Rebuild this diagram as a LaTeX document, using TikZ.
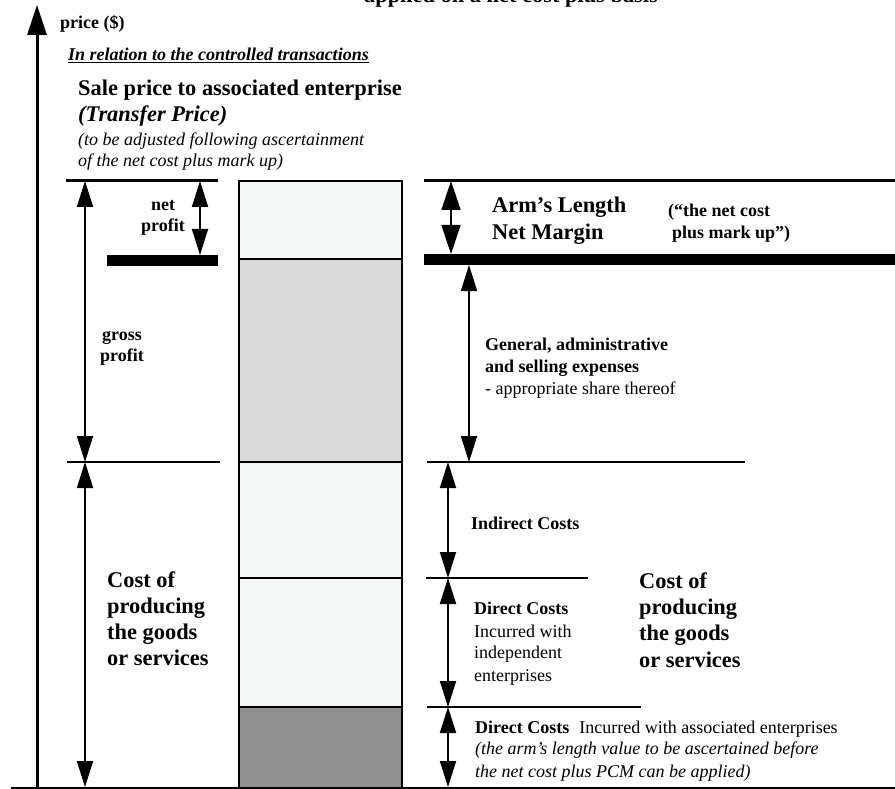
\documentclass[tikz,border=0pt]{standalone}
\usepackage{fontspec}
\setmainfont{Liberation Serif}
\usetikzlibrary{arrows.meta}
\definecolor{boxlight}{HTML}{F5F7F6}
\definecolor{boxmid}{HTML}{D9D9D9}
\definecolor{boxdark}{HTML}{909090}
\begin{document}
\begin{tikzpicture}[x=1pt,y=-1pt,
  dimarrow/.style={line width=1.8pt,{Triangle[length=26pt,width=16pt]}-{Triangle[length=26pt,width=16pt]}},
  armarrow/.style={line width=1.8pt,{Triangle[length=29pt,width=19pt]}-{Triangle[length=29pt,width=19pt]}},
  txt/.style={anchor=base west,inner sep=0pt,font=\fontsize{18}{22}\selectfont},
  txtb/.style={txt,font=\fontsize{18}{22}\selectfont\bfseries},
  txtc/.style={txtb,anchor=base},
  txti/.style={txt,font=\fontsize{18}{22}\selectfont\itshape},
  bigtxt/.style={anchor=base west,inner sep=0pt,font=\fontsize{22.4}{26}\selectfont\bfseries},
  levelline/.style={line width=2pt},
  topline/.style={line width=3pt},
  netline/.style={line width=11pt},
  segbox/.style={draw,line width=2pt}]
\useasboundingbox (0,0) rectangle (895,789);
\fill[white] (0,0) rectangle (895,789);

% title cut at top
\node[bigtxt,anchor=base] (title) at (511,3) {applied on a net cost plus basis};

% axis
\coordinate (axisB) at (37,789);
\coordinate (axisT) at (37,5);
\draw[line width=3pt,-{Triangle[length=30pt,width=19pt]}] (axisB) -- (axisT);
\node[txtb] (price) at (60,29) {price (\$)};

\node[txt,font=\fontsize{18}{22}\selectfont\bfseries\itshape] (rel) at (68,61) {\underline{In relation to the controlled transactions}};
\node[bigtxt] (sale) at (78,96) {Sale price to associated enterprise};
\node[bigtxt,font=\fontsize{22.4}{26}\selectfont\bfseries\itshape] (tp) at (78,122) {(Transfer Price)};
\node[txti] (adj1) at (78,146) {(to be adjusted following ascertainment};
\node[txti] (adj2) at (78,167) {of the net cost plus mark up)};

% column
\filldraw[segbox,fill=boxlight] (239,181) rectangle (402,259);
\filldraw[segbox,fill=boxmid] (239,259) rectangle (402,462);
\filldraw[segbox,fill=boxlight] (239,462) rectangle (402,578);
\filldraw[segbox,fill=boxlight] (239,578) rectangle (402,707);
\filldraw[segbox,fill=boxdark] (239,707) rectangle (402,792);

% level lines
\coordinate (lt1) at (66,181);  \coordinate (lt2) at (218,181);
\coordinate (rt1) at (424,181); \coordinate (rt2) at (895,181);
\coordinate (ln1) at (107,260); \coordinate (ln2) at (218,260);
\coordinate (rn1) at (424,259); \coordinate (rn2) at (895,259);
\coordinate (lg1) at (67,462);  \coordinate (lg2) at (220,462);
\coordinate (rg1) at (427,462); \coordinate (rg2) at (745,462);
\coordinate (ri1) at (426,578); \coordinate (ri2) at (588,578);
\coordinate (rd1) at (427,707); \coordinate (rd2) at (641,707);
\coordinate (base1) at (11,788); \coordinate (base2) at (895,788);
\draw[topline] (lt1) -- (lt2);
\draw[topline] (rt1) -- (rt2);
\draw[netline] (ln1) -- (ln2);
\draw[netline] (rn1) -- (rn2);
\draw[levelline] (lg1) -- (lg2);
\draw[levelline] (rg1) -- (rg2);
\draw[levelline] (ri1) -- (ri2);
\draw[levelline] (rd1) -- (rd2);
\draw[line width=1.5pt] (base1) -- (base2);

% dimension arrows
\coordinate (gpT) at (85,181);  \coordinate (gpB) at (85,462);
\coordinate (cpB) at (85,787);
\coordinate (npT) at (200,181); \coordinate (npB) at (200,255);
\coordinate (amT) at (451,181); \coordinate (amB) at (451,254);
\coordinate (gsT) at (469,265); \coordinate (gsB) at (469,462);
\coordinate (icT) at (448,462); \coordinate (icB) at (448,578);
\coordinate (dcB) at (448,707); \coordinate (daB) at (448,787);
\draw[dimarrow] (gpT) -- (gpB);
\draw[dimarrow] (gpB) -- (cpB);
\draw[dimarrow] (npT) -- (npB);
\draw[armarrow] (amT) -- (amB);
\draw[dimarrow] (gsT) -- (gsB);
\draw[dimarrow] (icT) -- (icB);
\draw[dimarrow] (icB) -- (dcB);
\draw[dimarrow] (dcB) -- (daB);

% left labels
\node[txtc] (net1) at (163,211) {net};
\node[txtc] (net2) at (163,232) {profit};
\node[txtc] (gross1) at (122,340) {gross};
\node[txtc] (gross2) at (122,361) {profit};
\node[bigtxt] (cl1) at (107,587) {Cost of};
\node[bigtxt] (cl2) at (107,613) {producing};
\node[bigtxt] (cl3) at (107,639) {the goods};
\node[bigtxt] (cl4) at (107,665) {or services};

% right labels
\node[bigtxt] (arm1) at (492,213) {Arm’s Length};
\node[bigtxt] (arm2) at (492,240) {Net Margin};
\node[txtb] (nc1) at (668,216) {(“the net cost};
\node[txtb] (nc2) at (672,238) {plus mark up”)};
\node[txtb] (ga1) at (485,350) {General, administrative};
\node[txtb] (ga2) at (485,372) {and selling expenses};
\node[txt] (ga3) at (485,394) {- appropriate share thereof};
\node[txtb] (ind) at (471,529) {Indirect Costs};
\node[txtb] (di1) at (474,614) {Direct Costs};
\node[txt] (di2) at (474,637) {Incurred with};
\node[txt] (di3) at (474,658) {independent};
\node[txt] (di4) at (474,681) {enterprises};
\node[txt] (da1) at (475,733) {\bfseries Direct Costs\hspace{10pt}\mdseries Incurred with associated enterprises};
\node[txti] (da2) at (475,754) {(the arm’s length value to be ascertained before};
\node[txti] (da3) at (475,777) {the net cost plus PCM can be applied)};
\node[bigtxt] (cr1) at (639,588) {Cost of};
\node[bigtxt] (cr2) at (639,614) {producing};
\node[bigtxt] (cr3) at (639,640) {the goods};
\node[bigtxt] (cr4) at (639,667) {or services};
\end{tikzpicture}
\end{document}
